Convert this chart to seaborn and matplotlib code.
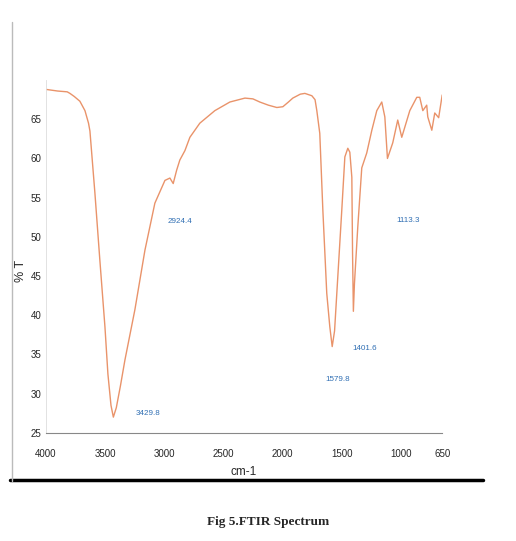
import matplotlib
matplotlib.use("Agg")
import matplotlib.pyplot as plt
import seaborn as sns
import pandas as pd
from matplotlib.lines import Line2D

# FTIR spectrum values
wavenumber = [3995, 3900, 3820, 3797, 3760, 3713, 3670, 3640, 3628, 3586,
              3544, 3501, 3476, 3450, 3430, 3405, 3370, 3332, 3248, 3163,
              3079, 2994, 2952, 2924, 2895, 2868, 2825, 2783, 2699, 2572,
              2445, 2318, 2250, 2192, 2120, 2048, 1997, 1950, 1913, 1850,
              1811, 1752, 1725, 1710, 1685, 1659, 1626, 1600, 1580, 1560,
              1541, 1499, 1473, 1448, 1431, 1414, 1408, 1401, 1392, 1364,
              1330, 1288, 1245, 1203, 1161, 1135, 1113, 1068, 1026, 992,
              924, 865, 840, 814, 781, 772, 738, 713, 680, 650]
transmittance = [68.8, 68.6, 68.5, 68.3, 67.9, 67.3, 66.1, 64.5, 63.5, 55.6,
                 47.0, 38.5, 32.5, 28.5, 27.0, 28.2, 31.0, 34.3, 40.7, 48.3,
                 54.3, 57.2, 57.5, 56.8, 58.5, 59.8, 61.0, 62.7, 64.5, 66.1,
                 67.2, 67.7, 67.6, 67.2, 66.8, 66.5, 66.6, 67.2, 67.7, 68.2,
                 68.3, 68.0, 67.5, 66.1, 63.2, 53.4, 42.8, 38.5, 36.0, 38.0,
                 42.8, 53.4, 60.2, 61.3, 60.8, 57.6, 48.0, 40.5, 44.0, 51.2,
                 58.8, 60.7, 63.6, 66.1, 67.2, 65.3, 60.0, 62.0, 64.9, 62.7,
                 66.1, 67.8, 67.8, 66.1, 66.8, 65.3, 63.6, 65.8, 65.2, 68.1]

peak_labels = ["3429.8", "2924.4", "1579.8", "1401.6", "1113.3"]
label_x = [3138, 2868, 1533, 1304, 941]
label_y = [27.4, 51.9, 31.8, 35.8, 52.1]

x_ticks = [4000, 3500, 3000, 2500, 2000, 1500, 1000, 650]
y_ticks = [25, 30, 35, 40, 45, 50, 55, 60, 65]

sns.set_style("white")
plt.rcParams['font.family'] = ['Liberation Sans', 'DejaVu Sans']

df = pd.DataFrame({"cm-1": wavenumber, "%T": transmittance})

fig = plt.figure(figsize=(5.16, 5.41), dpi=100)
ax = fig.add_axes([0.089, 0.2, 0.768, 0.652])

sns.lineplot(data=df, x="cm-1", y="%T", sort=False, estimator=None,
             color="#e9936a", linewidth=1.0, ax=ax)

ax.set_xlim(4000, 650)
ax.set_ylim(25, 70)
ax.set_xticks(x_ticks)
ax.set_xticklabels([str(t) for t in x_ticks], fontsize=7)
ax.set_yticks(y_ticks)
ax.set_yticklabels([str(t) for t in y_ticks], fontsize=7)
ax.tick_params(axis='y', length=2, width=0.6, color="#777777", pad=1)
ax.tick_params(axis='x', length=0, pad=12)

for s in ["top", "right"]:
    ax.spines[s].set_visible(False)
ax.spines["left"].set_color("#dddddd")
ax.spines["left"].set_linewidth(0.6)
ax.spines["bottom"].set_color("#888888")
ax.spines["bottom"].set_linewidth(0.8)

ax.set_xlabel("cm-1", fontsize=8.5, labelpad=5)
ax.set_ylabel("% T", fontsize=9)
ax.yaxis.set_label_coords(-0.048, 0.46)

for txt, lx, ly in zip(peak_labels, label_x, label_y):
    ax.text(lx, ly, txt, fontsize=5.8, color="#2f6eb3", ha="center", va="center")

# page rule and caption below the chart
fig.add_artist(Line2D([0.02, 0.937], [0.113, 0.113], color="black", linewidth=2.5))
fig.add_artist(Line2D([0.023, 0.023], [0.11, 0.96], color="#bbbbbb", linewidth=1.0))
fig.text(0.52, 0.035, "Fig 5.FTIR Spectrum", fontsize=9.5, fontweight="bold",
         family="Liberation Serif", ha="center", va="center")

fig.savefig("out.png", dpi=100)
